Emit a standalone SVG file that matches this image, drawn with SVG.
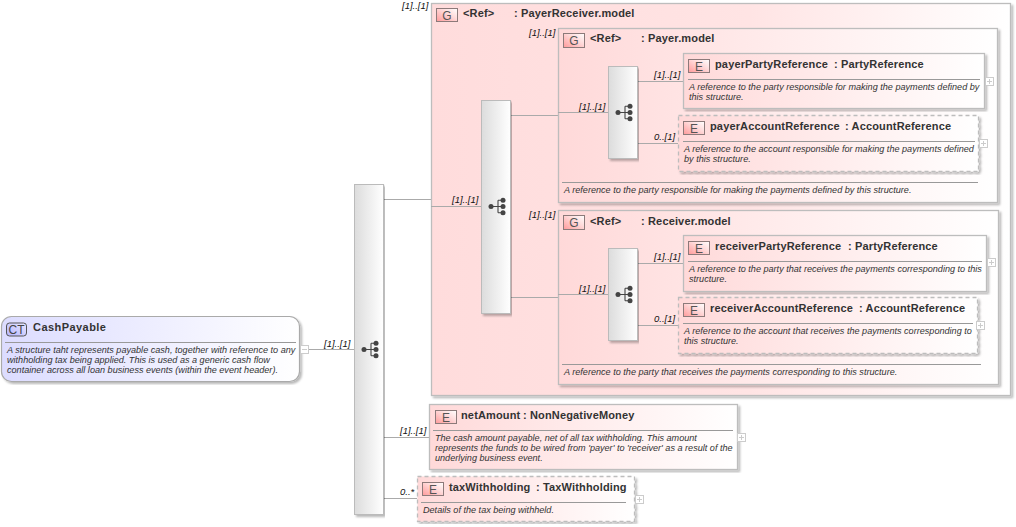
<svg xmlns="http://www.w3.org/2000/svg" width="1016" height="527" viewBox="0 0 1016 527">
<style>
text{font-family:"Liberation Sans",Arial,sans-serif;fill:#333}
.t{font-size:11px;font-weight:bold;letter-spacing:.15px}
.d{font-size:9.1px;font-style:italic;fill:#333}
.c{font-size:9.5px;font-style:italic;fill:#111}
.i{font-size:12px;fill:#555;text-anchor:middle}
.box{stroke:#bdbdbd;stroke-width:1.3;fill:url(#pk);filter:url(#sh)}
.opt{stroke:#bdbdbd;stroke-width:1.3;stroke-dasharray:4 3;fill:url(#pk);filter:url(#sh)}
.grp{stroke:#bdbdbd;stroke-width:1.3;filter:url(#sh)}
.seq{fill:url(#gy);stroke:#bbb;stroke-width:1;filter:url(#sh)}
.sep{stroke:#999;stroke-width:1}
.ib{fill:url(#ic);stroke:#8c7a7a;stroke-width:1}
.pm{fill:#fff;stroke:#ccc;stroke-width:1}
.pl{stroke:#ccc;stroke-width:1}
#conn line{stroke:#aaa;stroke-width:1}
.dot{fill:#444}
.tr{stroke:#444;stroke-width:1.1;fill:none}
</style>
<defs>
<linearGradient id="pk"><stop offset="0" stop-color="#ffd9d9"/><stop offset="1" stop-color="#fff"/></linearGradient>
<linearGradient id="og"><stop offset="0" stop-color="#ffdcdc"/><stop offset=".55" stop-color="#ffe4e4"/><stop offset="1" stop-color="#fff"/></linearGradient>
<linearGradient id="bl"><stop offset="0" stop-color="#dcdcff"/><stop offset="1" stop-color="#fff"/></linearGradient>
<linearGradient id="gy"><stop offset="0" stop-color="#dcdcdc"/><stop offset="1" stop-color="#fff"/></linearGradient>
<linearGradient id="ic" x1="0" y1="1" x2="1" y2="0"><stop offset="0" stop-color="#ff9a9a"/><stop offset=".6" stop-color="#ffdcdc"/><stop offset="1" stop-color="#fff"/></linearGradient>
<linearGradient id="icb" x1="0" y1="1" x2="1" y2="0"><stop offset="0" stop-color="#b4b4ff"/><stop offset="1" stop-color="#e8e8ff"/></linearGradient>
<filter id="sh" x="-5%" y="-5%" width="110%" height="110%"><feDropShadow dx="2" dy="2" stdDeviation=".8" flood-color="#000" flood-opacity=".28"/></filter>
<g id="tree"><circle class="dot" cx="0" cy="0" r="2.5"/><circle class="dot" cx="12" cy="-6.200" r="2.500"/><circle class="dot" cx="12" cy="0" r="2.500"/><circle class="dot" cx="12" cy="6.200" r="2.500"/><path class="tr" d="M0 0H7M7-6.200V6.200M7-6.200H12M7 6.200H12M7 0H12"/></g>
</defs>

<g id="group-PayerReceiver">
<rect class="grp" x="431.500" y="3.500" width="579" height="392" fill="url(#og)"/>
<rect class="ib" x="436.500" y="8.500" width="21" height="13"/><text class="i" x="447" y="19.500">G</text>
<text class="t" x="463" y="17">&lt;Ref&gt;</text><text class="t" x="514" y="17">: PayerReceiver.model</text>
</g>

<g id="conn">
<line x1="309" y1="349.500" x2="354" y2="349.500"/>
<line x1="384" y1="199.500" x2="431" y2="199.500"/>
<line x1="431" y1="206.500" x2="481" y2="206.500"/>
<line x1="511" y1="115.500" x2="558" y2="115.500"/>
<line x1="511" y1="297.500" x2="558" y2="297.500"/>
<line x1="384" y1="437.500" x2="429" y2="437.500"/>
<line x1="384" y1="498.500" x2="417" y2="498.500"/>
</g>

<g id="group-Payer">
<rect class="grp" x="558.500" y="28.500" width="439" height="174" fill="url(#pk)"/>
<rect class="ib" x="563.500" y="33.500" width="21" height="14"/><text class="i" x="574" y="45">G</text>
<text class="t" x="590" y="42">&lt;Ref&gt;</text><text class="t" x="641" y="42">: Payer.model</text>
<line class="sep" x1="562" y1="182.500" x2="978" y2="182.500"/>
<text class="d" x="564" y="193">A reference to the party responsible for making the payments defined by this structure.</text>
</g>
<g id="group-Receiver">
<rect class="grp" x="558.500" y="210.500" width="440" height="174" fill="url(#pk)"/>
<rect class="ib" x="563.500" y="215.500" width="21" height="14"/><text class="i" x="574" y="227">G</text>
<text class="t" x="590" y="225">&lt;Ref&gt;</text><text class="t" x="641" y="225">: Receiver.model</text>
<line class="sep" x1="562" y1="364.500" x2="981" y2="364.500"/>
<text class="d" x="564" y="375">A reference to the party that receives the payments corresponding to this structure.</text>
</g>

<g id="conn-inner">
<line x1="558" y1="112.500" x2="608" y2="112.500" stroke="#aaa"/>
<line x1="637" y1="81.500" x2="683" y2="81.500" stroke="#aaa"/>
<line x1="637" y1="143.500" x2="678" y2="143.500" stroke="#aaa"/>
<line x1="558" y1="294.500" x2="608" y2="294.500" stroke="#aaa"/>
<line x1="637" y1="263.500" x2="683" y2="263.500" stroke="#aaa"/>
<line x1="637" y1="325.500" x2="678" y2="325.500" stroke="#aaa"/>
</g>

<g id="seq-main"><rect class="seq" x="354.500" y="184.500" width="29" height="330"/><use href="#tree" x="364" y="349.500"/></g>
<g id="seq-payerreceiver"><rect class="seq" x="481.500" y="100.500" width="29" height="213"/><use href="#tree" x="491" y="206.500"/></g>
<g id="seq-payer"><rect class="seq" x="608.500" y="66.500" width="29" height="92"/><use href="#tree" x="618" y="112.500"/></g>
<g id="seq-receiver"><rect class="seq" x="608.500" y="248.500" width="29" height="92"/><use href="#tree" x="618" y="294.500"/></g>

<g id="CashPayable">
<rect x="1.500" y="316.500" width="298" height="65" rx="10" fill="url(#bl)" stroke="#aaa" stroke-width="1.2" filter="url(#sh)"/>
<rect x="6.500" y="323" width="20" height="13" rx="3" fill="url(#icb)" stroke="#555"/><text class="i" x="16.500" y="334" style="fill:#444">CT</text>
<text class="t" x="33" y="331" style="letter-spacing:.45px">CashPayable</text>
<line class="sep" x1="5" y1="342.500" x2="296" y2="342.500"/>
<text class="d" x="7" y="353">A structure taht represents payable cash, together with reference to any</text>
<text class="d" x="7" y="363">withholding tax being applied. This is used as a generic cash flow</text>
<text class="d" x="7" y="373">container across all loan business events (within the event header).</text>
<rect class="pm" x="300.500" y="345.500" width="8" height="8"/><line class="pl" x1="302" y1="349.500" x2="307" y2="349.500"/>
</g>

<g id="payerPartyReference">
<rect class="box" x="683.500" y="53.500" width="301" height="55"/>
<rect class="ib" x="688.500" y="59.500" width="21" height="13"/><text class="i" x="699" y="70.500">E</text>
<text class="t" x="715" y="68">payerPartyReference</text><text class="t" x="834" y="68">: PartyReference</text>
<line class="sep" x1="688" y1="79.500" x2="980" y2="79.500"/>
<text class="d" x="689" y="90">A reference to the party responsible for making the payments defined by</text>
<text class="d" x="689" y="100">this structure.</text>
<rect class="pm" x="985.500" y="77.500" width="8" height="8"/><path class="pl" d="M987 81.500H992M989.500 79V84"/>
</g>
<g id="payerAccountReference">
<rect class="opt" x="678.500" y="115.500" width="300" height="56"/>
<rect class="ib" x="683.500" y="121.500" width="21" height="13"/><text class="i" x="694" y="132.500">E</text>
<text class="t" x="710" y="130">payerAccountReference</text><text class="t" x="845" y="130">: AccountReference</text>
<line class="sep" x1="683" y1="141.500" x2="975" y2="141.500"/>
<text class="d" x="684" y="152">A reference to the account responsible for making the payments defined</text>
<text class="d" x="684" y="162">by this structure.</text>
<rect class="pm" x="979.500" y="139.500" width="8" height="8"/><path class="pl" d="M981 143.500H986M983.500 141V146"/>
</g>
<g id="receiverPartyReference">
<rect class="box" x="683.500" y="235.500" width="303" height="56"/>
<rect class="ib" x="688.500" y="241.500" width="21" height="13"/><text class="i" x="699" y="252.500">E</text>
<text class="t" x="715" y="250">receiverPartyReference</text><text class="t" x="848" y="250">: PartyReference</text>
<line class="sep" x1="688" y1="261.500" x2="982" y2="261.500"/>
<text class="d" x="689" y="272">A reference to the party that receives the payments corresponding to this</text>
<text class="d" x="689" y="282">structure.</text>
<rect class="pm" x="987.500" y="258.500" width="8" height="8"/><path class="pl" d="M989 262.500H994M991.500 260V265"/>
</g>
<g id="receiverAccountReference">
<rect class="opt" x="678.500" y="297.500" width="299" height="56"/>
<rect class="ib" x="683.500" y="303.500" width="21" height="13"/><text class="i" x="694" y="314.500">E</text>
<text class="t" x="710" y="312">receiverAccountReference</text><text class="t" x="859" y="312">: AccountReference</text>
<line class="sep" x1="683" y1="323.500" x2="973" y2="323.500"/>
<text class="d" x="684" y="334">A reference to the account that receives the payments corresponding to</text>
<text class="d" x="684" y="344">this structure.</text>
<rect class="pm" x="976.500" y="321.500" width="8" height="8"/><path class="pl" d="M978 325.500H983M980.500 323V328"/>
</g>
<g id="netAmount">
<rect class="box" x="429.500" y="404.500" width="308" height="65"/>
<rect class="ib" x="435.500" y="410.500" width="21" height="13"/><text class="i" x="446" y="421.500">E</text>
<text class="t" x="461" y="419">netAmount</text><text class="t" x="523" y="419">: NonNegativeMoney</text>
<line class="sep" x1="433" y1="430.500" x2="733" y2="430.500"/>
<text class="d" x="435" y="441">The cash amount payable, net of all tax withholding. This amount</text>
<text class="d" x="435" y="451">represents the funds to be wired from 'payer' to 'receiver' as a result of the</text>
<text class="d" x="435" y="461">underlying business event.</text>
<rect class="pm" x="737.500" y="433.500" width="8" height="8"/><path class="pl" d="M739 437.500H744M741.500 435V440"/>
</g>
<g id="taxWithholding">
<rect class="opt" x="417.500" y="476.500" width="217" height="45"/>
<rect class="ib" x="422.500" y="482.500" width="21" height="13"/><text class="i" x="433" y="493.500">E</text>
<text class="t" x="449" y="491">taxWithholding</text><text class="t" x="536" y="491">: TaxWithholding</text>
<line class="sep" x1="421" y1="502.500" x2="626" y2="502.500"/>
<text class="d" x="423" y="513">Details of the tax being withheld.</text>
<rect class="pm" x="635.500" y="495.500" width="8" height="8"/><path class="pl" d="M637 499.500H642M639.500 497V502"/>
</g>

<g id="labels">
<text class="c" x="402" y="9">[1]..[1]</text>
<text class="c" x="529" y="36">[1]..[1]</text>
<text class="c" x="529" y="218">[1]..[1]</text>
<text class="c" x="324" y="347">[1]..[1]</text>
<text class="c" x="452" y="203">[1]..[1]</text>
<text class="c" x="579" y="110">[1]..[1]</text>
<text class="c" x="579" y="292">[1]..[1]</text>
<text class="c" x="654" y="78">[1]..[1]</text>
<text class="c" x="654" y="140">0..[1]</text>
<text class="c" x="654" y="260">[1]..[1]</text>
<text class="c" x="654" y="322">0..[1]</text>
<text class="c" x="400" y="434">[1]..[1]</text>
<text class="c" x="400" y="495">0..*</text>
</g>
</svg>
